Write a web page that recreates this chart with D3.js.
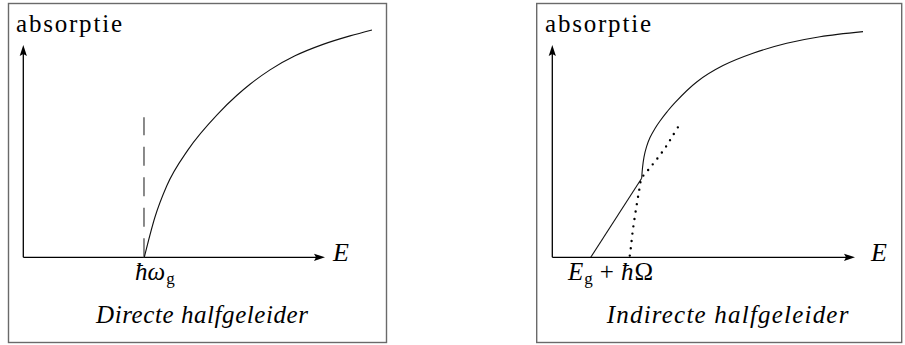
<!DOCTYPE html>
<html><head><meta charset="utf-8">
<script src="https://cdn.jsdelivr.net/npm/d3@7"></script>
<style>html,body{margin:0;padding:0;background:#fff;overflow:hidden}</style>
</head><body><svg id="c" width="905" height="345"></svg>
<script>
// Both axes run from 0 to 10 in arbitrary units
const axisMax = 10;

// Direct semiconductor: absorption starts at the band gap
const directGapE = 4.0;
const directGapMarkerTop = 6.6;
const directE = [4.01, 4.365, 4.753, 5.459, 6.453, 7.073, 7.514, 8.177, 9.006, 9.934, 10.829, 11.558];
const directA = [0, 1.90, 3.36, 5.06, 6.76, 7.62, 8.15, 8.83, 9.49, 10.03, 10.43, 10.71];

// Indirect semiconductor: phonon-assisted ramp, then the steep rise
const rampE = [1.27, 2.953];
const rampA = [0, 3.72];
const upperE = [2.953, 2.980, 3.029, 3.112, 3.228, 3.393, 3.558, 3.789, 4.053, 4.770, 5.639, 6.630, 7.744, 8.844, 10.265];
const upperA = [3.72, 4.21, 4.72, 5.20, 5.64, 6.07, 6.42, 6.85, 7.29, 8.26, 9.03, 9.61, 10.08, 10.39, 10.63];
const dottedE = [2.56, 2.60, 2.66, 2.76, 2.86, 2.953, 3.16, 3.43, 3.72, 3.95, 4.16];
const dottedA = [0.08, 0.52, 1.27, 2.22, 3.07, 3.72, 4.10, 4.58, 5.14, 5.66, 6.15];

// Texts
const yAxisLabel = "absorptie";
const xAxisLabel = "E";
const panelTitles = ["Directe halfgeleider", "Indirecte halfgeleider"];

const svg = d3.select("#c");
svg.append("rect").attr("width", 905).attr("height", 345).attr("fill", "#fff");

const FS = 25;
const zip = (xs, ys) => xs.map((x, i) => [x, ys[i]]);

function panel(opt) {
  const g = svg.append("g");
  g.append("rect")
    .attr("x", opt.frame[0]).attr("y", opt.frame[1])
    .attr("width", opt.frame[2]).attr("height", opt.frame[3])
    .attr("fill", "none").attr("stroke", "#6a6a6a").attr("stroke-width", 1.4);

  const x = d3.scaleLinear().domain([0, axisMax]).range([opt.x0, opt.x1]);
  const y = d3.scaleLinear().domain([0, axisMax]).range([opt.y0, opt.y1]);

  // axes with arrowheads
  const axisPath = d3.path();
  axisPath.moveTo(x(0), y(0)); axisPath.lineTo(x(axisMax) - 6, y(0));
  axisPath.moveTo(x(0), y(0)); axisPath.lineTo(x(0), y(axisMax) + 6);
  g.append("path").attr("d", axisPath.toString())
    .attr("fill", "none").attr("stroke", "#000").attr("stroke-width", 1.3);
  const hx = x(axisMax), hy = y(0);
  g.append("path")
    .attr("d", `M${hx},${hy} L${hx - 11},${hy - 3.6} L${hx - 9},${hy} L${hx - 11},${hy + 3.6} Z`)
    .attr("fill", "#000");
  const vx = x(0), vy = y(axisMax);
  g.append("path")
    .attr("d", `M${vx},${vy} L${vx - 3.6},${vy + 11} L${vx},${vy + 9} L${vx + 3.6},${vy + 11} Z`)
    .attr("fill", "#000");

  // axis labels
  g.append("text").attr("x", opt.yLabelX).attr("y", 31.5)
    .style("font-size", FS + "px")
    .attr("textLength", 106).attr("lengthAdjust", "spacing")
    .text(yAxisLabel);
  g.append("text").attr("x", opt.xLabelX).attr("y", 261)
    .style("font-size", (FS + 1) + "px").style("font-style", "italic")
    .text(xAxisLabel);

  // panel title
  g.append("text").attr("x", opt.titleX).attr("y", 323)
    .style("font-size", FS + "px").style("font-style", "italic")
    .attr("textLength", opt.titleW).attr("lengthAdjust", "spacing")
    .text(opt.title);

  return { g, x, y };
}

// ---- left panel: direct semiconductor
const L = panel({
  frame: [8.5, 3.5, 378, 339], x0: 23.3, x1: 325, y0: 257.3, y1: 45,
  yLabelX: 16, xLabelX: 333, titleX: 96, titleW: 212, title: panelTitles[0]
});
L.g.append("line")
  .attr("x1", L.x(directGapE)).attr("x2", L.x(directGapE))
  .attr("y1", L.y(0)).attr("y2", L.y(directGapMarkerTop))
  .attr("stroke", "#6e6e6e").attr("stroke-width", 1.6)
  .attr("stroke-dasharray", "19 11.5");
L.g.append("path")
  .attr("d", d3.line().x(d => L.x(d[0])).y(d => L.y(d[1])).curve(d3.curveMonotoneX)(zip(directE, directA)))
  .attr("fill", "none").attr("stroke", "#111").attr("stroke-width", 1.1);
const lbl1 = L.g.append("text").attr("x", 135).attr("y", 280)
  .style("font-size", FS + "px");
lbl1.append("tspan").style("font-style", "italic").text("ħω");
lbl1.append("tspan").style("font-size", "17px").attr("dx", 1).attr("dy", 4).text("g");

// ---- right panel: indirect semiconductor
const R = panel({
  frame: [536.7, 3.5, 365, 339], x0: 552.3, x1: 855, y0: 257.3, y1: 45,
  yLabelX: 545, xLabelX: 871, titleX: 606.7, titleW: 241.7, title: panelTitles[1]
});
const lineR = d3.line().x(d => R.x(d[0])).y(d => R.y(d[1]));
R.g.append("path")
  .attr("d", lineR.curve(d3.curveCatmullRom)(zip(dottedE, dottedA)))
  .attr("fill", "none").attr("stroke", "#000").attr("stroke-width", 2.4)
  .attr("stroke-linecap", "round").attr("stroke-dasharray", "0 7.4");
R.g.append("path")
  .attr("d", lineR.curve(d3.curveLinear)(zip(rampE, rampA)))
  .attr("fill", "none").attr("stroke", "#111").attr("stroke-width", 1.1);
R.g.append("path")
  .attr("d", lineR.curve(d3.curveCatmullRom)(zip(upperE, upperA)))
  .attr("fill", "none").attr("stroke", "#111").attr("stroke-width", 1.1);
const lbl2 = R.g.append("text").attr("x", 568).attr("y", 280)
  .style("font-size", FS + "px");
lbl2.append("tspan").style("font-style", "italic").text("E");
lbl2.append("tspan").style("font-size", "17px").attr("dx", 1).attr("dy", 4).text("g");
lbl2.append("tspan").attr("dy", -4).attr("dx", 7).text("+");
lbl2.append("tspan").attr("dx", 7).style("font-style", "italic").text("ħ");
lbl2.append("tspan").attr("dx", 1).text("Ω");

// every label in the serif face
svg.selectAll("text").style("font-family", "Liberation Serif");
</script>
</body></html>
